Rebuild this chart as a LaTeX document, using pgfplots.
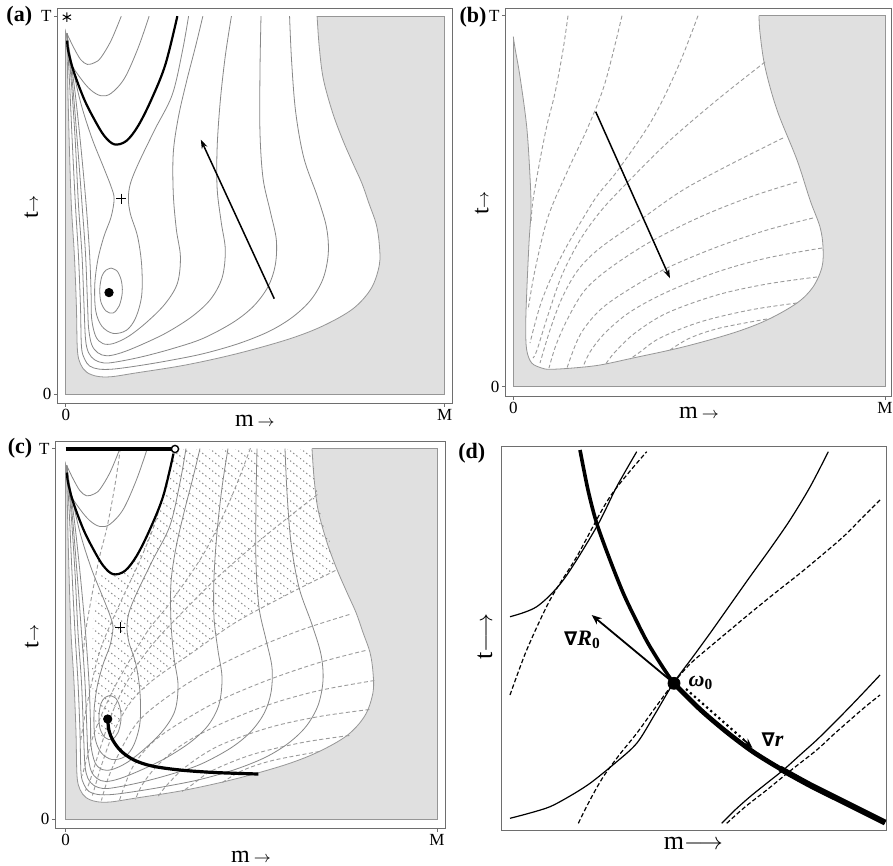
\documentclass[border=0pt]{standalone}
\usepackage{pgfplots}
\pgfplotsset{compat=1.18}
\usepackage{fontspec}
\setmainfont{Liberation Serif}
\newfontfamily\djv{DejaVu Sans}
\usetikzlibrary{patterns.meta,arrows.meta}

\definecolor{bg}{RGB}{224,224,224}
\definecolor{bd}{RGB}{150,150,150}
\definecolor{cl}{RGB}{135,135,135}
\definecolor{dl}{RGB}{155,155,155}
\definecolor{hl}{RGB}{135,135,135}
\definecolor{fr}{RGB}{110,110,110}

\tikzdeclarepattern{name=hatchdots, type=uncolored,
  bottom left={(0pt,0pt)}, top right={(6.6pt,4.95pt)}, tile size={(6.6pt,4.95pt)},
  code={\draw[line width=0.5pt, dash pattern=on 0.7pt off 1.3625pt] (0pt,4.95pt) -- (6.6pt,0pt);}}

\pgfplotsset{
  panel/.style={scale only axis, anchor=north west, y dir=reverse, clip=false,
    axis line style={fr, line width=0.5pt},
    tick align=outside, major tick length=1.6pt,
    tick style={fr, line width=0.4pt},
    xtick pos=left, xticklabel pos=left, ytick pos=left, yticklabel pos=left,
    tick label style={font=\fontsize{8.5}{10}\selectfont, inner sep=1pt}},
  cnt/.style={draw=cl, line width=0.4pt, smooth, tension=0.55, mark=none},
  dsh/.style={draw=dl, line width=0.45pt, dash pattern=on 2pt off 1.3pt, smooth, tension=0.55, mark=none},
}

\newcommand\lbl{\fontsize{12}{14}\selectfont}
\newcommand\sarr{{\fontsize{8}{8}\selectfont$\rightarrow$}}
\newcommand\nab{{\djv\bfseries\fontsize{9.5}{11}\selectfont ∇}}

% grey background and white feasible region of panels (a) and (c)
\newcommand\RegionA{%
\addplot[fill=bg, draw=bd, line width=0.4pt] coordinates {(65.7,16) (437,16) (437,386.5) (65.7,386.5)} -- cycle;
\addplot[fill=white, draw=none, smooth, tension=0.55] coordinates {(312,16) (314,45) (318,77) (327,110) (337,137) (347,160) (356,180) (363,200) (370,220) (373,240) (373,260) (365,283) (347,303) (317,320) (283,333) (233,347) (183,358) (133,366) (110,369.5) (96,369) (86,365) (80,357) (77,343) (76,300) (74,250) (71,200) (69,140) (67.5,80) (66.7,33)} -- (axis cs:64,25) -- (axis cs:64,14.5) -- (axis cs:312,14.5) -- cycle;
\addplot[cnt, draw=bd] coordinates {(312,16) (314,45) (318,77) (327,110) (337,137) (347,160) (356,180) (363,200) (370,220) (373,240) (373,260) (365,283) (347,303) (317,320) (283,333) (233,347) (183,358) (133,366) (110,369.5) (96,369) (86,365) (80,357) (77,343) (76,300) (74,250) (71,200) (69,140) (67.5,80) (66.7,33)};
}

% contours of R0 (panels a and c)
\newcommand\ContoursA{%
\addplot[cnt] coordinates {(66.7,33) (70,40) (73.3,46.7) (80,58.3) (86.7,63.3) (94,61.5) (100,56.7) (110,40) (120,16)};
\addplot[cnt] coordinates {(66.7,33) (70,60) (80,76.7) (90,88.3) (100,94) (110,91.7) (123.3,76.7) (136.7,46.7) (147.3,16)};
\addplot[cnt] coordinates {(285,16) (287,60) (291,110) (299,155) (312,192) (321,222) (323,248) (318,273) (306,294) (288,311) (265,325) (235,337) (200,347) (165,354) (135,359) (112,362) (98,362) (89,359) (84,352) (81,340) (80,300) (78,250) (75,200) (72,140) (69.5,85) (66.7,33)};
\addplot[cnt] coordinates {(257,16) (256,70) (256,130) (259,175) (266,207) (272,235) (271,260) (264,281) (250,300) (230,316) (200,332) (170,342) (140,350) (115,355) (103,356) (94,353) (88,346) (85,333) (83.5,300) (81.5,250) (78,200) (75,140) (71,80) (66.7,33)};
\addplot[cnt] coordinates {(228,16) (222,55) (217,100) (214,145) (214,185) (218,218) (222,245) (219,272) (208,293) (190,310) (165,326) (140,338) (120,346) (106,349) (97,346) (91,338) (88,322) (87,300) (85,250) (81.5,200) (77,140) (72,80) (66.7,33)};
\addplot[cnt] coordinates {(200,16) (193,45) (184,80) (176,115) (171,150) (171,190) (174,225) (178,252) (175,278) (163,298) (145,316) (127,330) (112,337) (102,337) (95,330) (91,313) (90.5,290) (89,250) (85.5,200) (80,140) (74,85) (68,45) (66.7,33)};
\addplot[cnt] coordinates {(66.7,33) (71,60) (80,100) (91,135) (103,165) (110,183) (113,195) (110,213) (103,232) (97,255) (94,280) (95,305) (101,320) (112,327) (125,324) (134,312) (140,290) (140,260) (136,232) (129,210) (127,195) (129,180) (137,160) (153,127) (170,93) (180,50) (186,16)};
\addplot[cnt] coordinates {(110,263) (116,266) (120,275) (121,287) (118,300) (112,307) (105,305) (100,296) (99,283) (101,271) (105,265) (110,263)};
}

% contours of r (panels b and c)
\newcommand\DashesB[1]{%
\addplot[dsh,#1] coordinates {(568,15.7) (563,50) (555,93) (547,125) (540,160) (533,200) (531,222)};
\addplot[dsh,#1] coordinates {(622,15.7) (605,83) (588,127) (568,170) (548,217) (535,270) (528,310)};
\addplot[dsh,#1] coordinates {(698,15.7) (678,67) (652,120) (618,170) (600,192) (588,210) (562,255) (542,300) (530,343)};
\addplot[dsh,#1] coordinates {(765,62) (717,100) (667,143) (623,187) (600,212) (580,240) (562,275) (548,315) (537,350) (533,358)};
\addplot[dsh,#1] coordinates {(783,138) (733,163) (683,190) (640,220) (600,248) (578,270) (562,298) (550,330) (540,363)};
\addplot[dsh,#1] coordinates {(797,182) (750,197) (700,217) (650,242) (610,268) (585,290) (568,318) (556,345) (549,368)};
\addplot[dsh,#1] coordinates {(813,218) (767,230) (717,247) (667,268) (628,290) (600,310) (580,335) (567,368)};
\addplot[dsh,#1] coordinates {(822,248) (767,258) (717,272) (667,292) (630,312) (605,333) (590,352) (583,367)};
\addplot[dsh,#1] coordinates {(817,277) (767,284) (717,295) (667,313) (635,333) (615,352) (605,365)};
\addplot[dsh,#1] coordinates {(797,303) (750,310) (700,322) (660,338) (640,352) (630,359)};
\addplot[dsh,#1] coordinates {(767,319) (720,328) (690,338) (670,350)};
}

\begin{document}
\begin{tikzpicture}
\useasboundingbox (0,0) rectangle (446.5pt,-433pt);

% ---------------- (a)
\begin{axis}[panel, at={(28.5pt,-4pt)}, width=194pt, height=194pt,
  xmin=57, xmax=445, ymin=8, ymax=396,
  xtick={65.7,437}, xticklabels={0,M}, ytick={16,386.5}, yticklabels={T,0}]
\RegionA
\ContoursA
\addplot[black, line width=1.1pt, smooth, tension=0.55] coordinates {(67,40) (68,50) (73.3,70) (83.3,96.7) (93.3,116.7) (103.3,133.3) (113.3,141.7) (125,138.3) (136.7,123.3) (150,96.7) (163.3,63.3) (175,16)};
\addplot[black, line width=0.75pt, -{Stealth[length=4.5pt,width=3pt]}] coordinates {(270,293) (198,137)};
\addplot[only marks, mark=*, mark size=2.1pt, black] coordinates {(108,287)};
\addplot[only marks, mark=+, mark size=2.6pt, black, mark options={line width=0.45pt}] coordinates {(120,195)};
\addplot[only marks, mark=asterisk, mark size=2.4pt, black, mark options={line width=0.5pt}] coordinates {(66.7,17)};
\node[font=\bfseries\fontsize{11}{12}\selectfont] at (axis cs:20,16.5) {(a)};
\node[rotate=90, font=\lbl] at (axis cs:31.7,203) {t\sarr};
\node[font=\lbl] at (axis cs:251,413) {m\,\sarr};
\end{axis}

% ---------------- (b)
\begin{axis}[panel, at={(252.5pt,-4.15pt)}, width=193.35pt, height=194.2pt,
  xmin=505, xmax=891.7, ymin=8.3, ymax=396.7,
  xtick={513.3,885}, xticklabels={0,M}, ytick={15.7,386.7}, yticklabels={T,0}]
\addplot[fill=bg, draw=bd, line width=0.4pt] coordinates {(513.3,15.7) (885,15.7) (885,386.7) (513.3,386.7)} -- cycle;
\addplot[fill=white, draw=none, smooth, tension=0.55] coordinates {(759,15.7) (760,33) (765,67) (777,110) (797,160) (810,200) (820,227) (823,247) (822,267) (813,287) (797,303) (767,320) (733,333) (683,347) (633,358) (600,365) (573,368) (550,369.3) (541.7,368) (531.7,363) (526.7,350) (525.7,327) (526.7,293) (529,243) (531,210) (530,176.7) (526.7,126.7) (520,76.7) (515,48) (513.3,36.7)} -- (axis cs:512,35) -- (axis cs:512,14) -- (axis cs:759,14) -- cycle;
\addplot[cnt, draw=bd] coordinates {(759,15.7) (760,33) (765,67) (777,110) (797,160) (810,200) (820,227) (823,247) (822,267) (813,287) (797,303) (767,320) (733,333) (683,347) (633,358) (600,365) (573,368) (550,369.3) (541.7,368) (531.7,363) (526.7,350) (525.7,327) (526.7,293) (529,243) (531,210) (530,176.7) (526.7,126.7) (520,76.7) (515,48) (513.3,36.7)};
\DashesB{}
\addplot[black, line width=0.75pt, -{Stealth[length=4.5pt,width=3pt]}] coordinates {(595.7,111.7) (670,278.3)};
\node[font=\bfseries\fontsize{11}{12}\selectfont] at (axis cs:473,17) {(b)};
\node[rotate=90, font=\lbl] at (axis cs:481.7,203) {t\sarr};
\node[font=\lbl] at (axis cs:699,413) {m\,\sarr};
\end{axis}

% ---------------- (c)
\begin{axis}[panel, at={(27.5pt,-220.85pt)}, width=195pt, height=193.3pt,
  xmin=55, xmax=445, ymin=9.2, ymax=395.8,
  xtick={65.7,437}, xticklabels={0,M}, ytick={16,386.5}, yticklabels={T,0}]
\RegionA
\addplot[draw=none, pattern=hatchdots, pattern color=hl] coordinates {(175,16.5) (312,16.5) (315,45) (320,77) (330,110) (335.4,138) (285.4,163) (235.4,190) (192.4,220) (152.4,248) (130,270) (114,295) (104,305) (97,300) (93,270) (92,230) (93,190) (97,160) (104,133) (113,142) (125,138) (137,123) (150,97) (163,63) (175,16.5)} -- cycle;
\DashesB{x filter/.expression={x-447.6}}
\ContoursA
\addplot[black, line width=1.1pt, smooth, tension=0.55] coordinates {(67,40) (68,50) (73.3,70) (83.3,96.7) (93.3,116.7) (103.3,133.3) (113.3,141.7) (125,138.3) (136.7,123.3) (150,96.7) (163.3,63.3) (173.5,21)};
\addplot[black, line width=1.6pt] coordinates {(65.7,16.5) (172,16.5)};
\addplot[black, line width=1.6pt, smooth, tension=0.55] coordinates {(107.7,286.5) (109,298) (113,308) (121,318.5) (134,327.5) (152,333.5) (180,337.5) (215,340) (258.3,341.5)};
\addplot[only marks, mark=*, mark size=2.1pt, black] coordinates {(107.7,286.5)};
\addplot[only marks, mark=*, mark size=1.8pt, mark options={fill=white, draw=black, line width=0.7pt}] coordinates {(175,16.5)};
\addplot[only marks, mark=+, mark size=2.6pt, black, mark options={line width=0.45pt}] coordinates {(120,195)};
\node[font=\bfseries\fontsize{11}{12}\selectfont] at (axis cs:20,15.5) {(c)};
\node[rotate=90, font=\lbl] at (axis cs:31.7,204) {t\sarr};
\node[font=\lbl] at (axis cs:251,424.5) {m\,\sarr};
\end{axis}

% ---------------- (d)
\begin{axis}[panel, at={(250.85pt,-223pt)}, width=192.5pt, height=192.35pt,
  xmin=501.7, xmax=886.7, ymin=446, ymax=830.7, xtick=\empty, ytick=\empty]
\addplot[black, line width=0.6pt, smooth] coordinates {(510,616.7) (536.7,606.7) (563.3,580) (596.7,526.7) (616.7,486.7) (636.7,451.7)};
\addplot[black, line width=0.6pt, smooth] coordinates {(510,818.3) (530,813) (550,806.7) (570,796) (590,783.3) (614,764) (636.7,743.3) (655,714) (673.3,683.3) (692,658) (710,633.3) (730,605) (750,576.7) (770,549) (790,520) (810,487) (828.3,451.7)};
\addplot[black, line width=0.6pt, smooth] coordinates {(721.7,823.3) (735,810) (750,796.7) (767,783) (783.3,770) (800,755) (816.7,740) (833,724) (850,706.7) (865,691) (880,675)};
\addplot[black, line width=0.6pt, dash pattern=on 2.2pt off 1.2pt, smooth] coordinates {(510,695) (526.7,650) (550,600) (576.7,556.7) (610,496.7) (646.7,451.7)};
\addplot[black, line width=0.6pt, dash pattern=on 2.2pt off 1.2pt, smooth] coordinates {(578.3,823.3) (590,800) (603.3,776.7) (620,754) (636.7,733.3) (655,708) (673.3,683.3) (690,664) (710,646.7) (730,630) (750,613.3) (775,593) (800,573.3) (822,555) (843.3,536.7) (862,518) (880,500)};
\addplot[black, line width=0.6pt, dash pattern=on 2.2pt off 1.2pt, smooth] coordinates {(726.7,823.3) (745,807) (766.7,790) (790,771) (816.7,750) (833,735) (850,720) (865,707) (880,695)};
\addplot[black, line width=1.8pt, smooth] coordinates {(580,450) (588,490) (596.7,523.3) (610,560) (623.3,593.3) (636,620) (650,646.7) (674,683.3) (700,709.3) (727,732.3) (753,751.8) (780,768.5) (810,785) (840,800) (885,822.5)};
\addplot[black, line width=2.4pt, smooth] coordinates {(674,683.3) (700,709.3) (727,732.3) (753,751.8) (780,768.5) (810,785) (840,800) (885,822.5)};
\addplot[black, line width=3pt, smooth] coordinates {(780,768.5) (810,785) (840,800) (885,822.5)};
\addplot[black, line width=0.9pt, -{Stealth[length=5pt,width=4pt]}] coordinates {(674,683.3) (591.7,615)};
\addplot[black, line width=1.1pt, dash pattern=on 1.1pt off 1.6pt] coordinates {(686,689) (744,740)};
\addplot[black, line width=0.8pt, -{Stealth[length=5pt,width=3.5pt]}] coordinates {(743,739) (752.5,748)};
\addplot[only marks, mark=*, mark size=3pt, black] coordinates {(674,683.3)};
\node[font=\fontsize{11}{12}\selectfont] at (axis cs:582.5,640) {\nab\textbf{\textit{R}}\textsubscript{\textbf{0}}};
\node[font=\fontsize{11}{12}\selectfont] at (axis cs:701,683) {\textbf{\textit{ω}}\textsubscript{\textbf{0}}};
\node[font=\fontsize{11}{12}\selectfont] at (axis cs:772.5,740) {\nab\textbf{\textit{r}}};
\node[font=\bfseries\fontsize{11}{12}\selectfont] at (axis cs:471.7,453.3) {(d)};
\node[rotate=90, font=\fontsize{13}{14}\selectfont] at (axis cs:485,636.7) {t$\longrightarrow$};
\node[font=\fontsize{13}{14}\selectfont] at (axis cs:693.3,843.3) {m$\longrightarrow$};
\end{axis}
\end{tikzpicture}
\end{document}
